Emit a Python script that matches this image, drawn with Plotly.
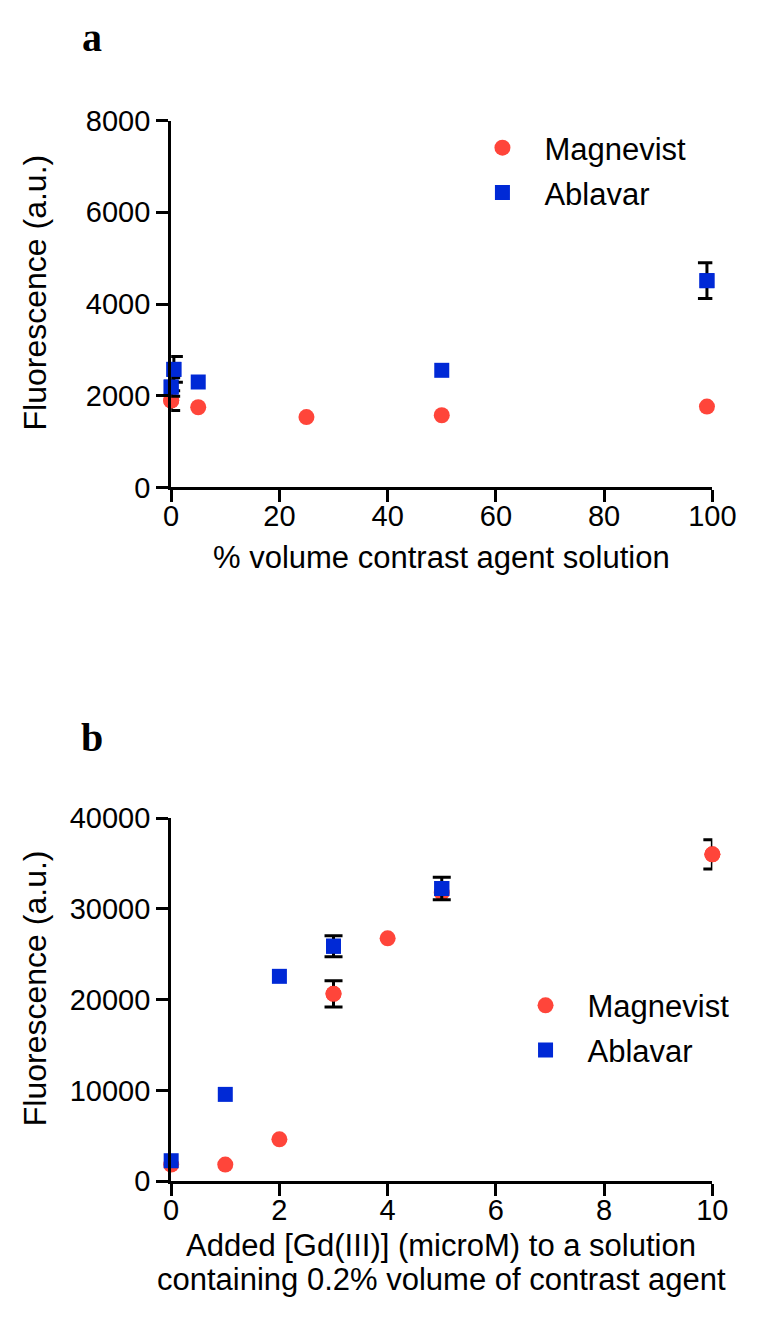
import plotly.graph_objects as go

# ---------------- data ----------------
# Panel a: % volume contrast agent solution vs fluorescence
a_mag_x = [0, 5, 25, 50, 99]
a_mag_y = [1895, 1750, 1535, 1575, 1765]
a_mag_err = [215, None, None, None, None]

a_abl_x = [0, 0.5, 5, 50, 99]
a_abl_y = [2190, 2575, 2300, 2555, 4510]
a_abl_err = [200, 280, None, None, 390]

# Panel b: added Gd(III) (microM) vs fluorescence
b_mag_x = [0, 1, 2, 3, 4, 5, 10]
b_mag_y = [1830, 1830, 4620, 20650, 26770, 31800, 36020]
b_mag_err = [None, None, None, 1450, None, None, 1600]

b_abl_x = [0, 1, 2, 3, 5]
b_abl_y = [2260, 9570, 22580, 25900, 32260]
b_abl_err = [None, None, None, 1150, 1240]

a_xticks = [0, 20, 40, 60, 80, 100]
a_yticks = [0, 2000, 4000, 6000, 8000]
b_xticks = [0, 2, 4, 6, 8, 10]
b_yticks = [0, 10000, 20000, 30000, 40000]

RED = "#FF453A"
BLUE = "#0029D6"
FONT = "Liberation Sans, Arial, sans-serif"
SERIF = "Liberation Serif, Times New Roman, serif"
W, H = 759, 1319
OFF = 8  # default page body margin of the written html


def px_x(p):
    return (p - OFF) / W


def px_y(p):
    return 1 - (p - OFF) / H


fig = go.Figure()


def add_series(x, y, err, name, color, symbol, size, xa, ya, legend):
    fig.add_trace(go.Scatter(
        x=x, y=y, mode="markers", name=name,
        marker=dict(color=color, symbol=symbol, size=size, line=dict(width=0)),
        xaxis=xa, yaxis=ya, legend=legend, legendgroup=legend + name,
        cliponaxis=False, showlegend=True))
    ex = [xx for xx, e in zip(x, err) if e is not None]
    ey = [yy for yy, e in zip(y, err) if e is not None]
    ee = [e for e in err if e is not None]
    if ex:
        fig.add_trace(go.Scatter(
            x=ex, y=ey, mode="markers", name=name,
            marker=dict(color=color, symbol=symbol, size=size, line=dict(width=0)),
            error_y=dict(type="data", array=ee, visible=True, color="black",
                         thickness=3, width=9),
            xaxis=xa, yaxis=ya, legend=legend, legendgroup=legend + name,
            cliponaxis=False, showlegend=False))


add_series(a_mag_x, a_mag_y, a_mag_err, "Magnevist", RED, "circle", 16, "x", "y", "legend")
add_series(a_abl_x, a_abl_y, a_abl_err, "Ablavar", BLUE, "square", 15, "x", "y", "legend")
add_series(b_mag_x, b_mag_y, b_mag_err, "Magnevist", RED, "circle", 16, "x2", "y2", "legend2")
add_series(b_abl_x, b_abl_y, b_abl_err, "Ablavar", BLUE, "square", 15, "x2", "y2", "legend2")

axis_common = dict(
    showline=True, linecolor="black", linewidth=3, showgrid=False, zeroline=False,
    ticks="outside", ticklen=12, tickwidth=3, tickcolor="black",
    tickfont=dict(family=FONT, size=29, color="black"),
)

xdom = [px_x(170), px_x(735)]
legend_common = dict(
    xanchor="left", yanchor="top",
    font=dict(family=FONT, size=31, color="black"),
    bgcolor="rgba(0,0,0,0)", borderwidth=0, itemwidth=74, tracegroupgap=1.5,
    traceorder="grouped",
)
fig.update_layout(
    width=W, height=H,
    margin=dict(l=0, r=0, t=0, b=0),
    paper_bgcolor="white", plot_bgcolor="white",
    font=dict(family=FONT, size=29, color="black"),
    xaxis=dict(domain=xdom, range=[0, 100], tickvals=a_xticks, anchor="y",
               ticklabelstandoff=-11, **axis_common),
    yaxis=dict(domain=[px_y(483), px_y(107)], range=[0, 8000], tickvals=a_yticks,
               tickformat="d", anchor="x", **axis_common),
    xaxis2=dict(domain=xdom, range=[0, 10], tickvals=b_xticks, anchor="y2",
                ticklabelstandoff=-11, **axis_common),
    yaxis2=dict(domain=[px_y(1194), px_y(822)], range=[0, 40000], tickvals=b_yticks,
                tickformat="d", anchor="x2", **axis_common),
    legend=dict(x=px_x(472), y=px_y(107.4), **legend_common),
    legend2=dict(x=px_x(517), y=px_y(986.4), **legend_common),
    showlegend=True,
)

ann = [
    dict(text="<b>a</b>", x=px_x(87.5), y=px_y(21.5),
         font=dict(family=SERIF, size=40, color="black")),
    dict(text="<b>b</b>", x=px_x(87.5), y=px_y(739.5),
         font=dict(family=SERIF, size=40, color="black")),
    dict(text="% volume contrast agent solution", x=px_x(452), y=px_y(555)),
    dict(text="Added [Gd(III)] (microM) to a solution", x=px_x(452), y=px_y(1260)),
    dict(text="containing 0.2% volume of contrast agent", x=px_x(452), y=px_y(1295)),
    dict(text="Fluorescence (a.u.)", x=px_x(28), y=px_y(283), textangle=-90,
         font=dict(family=FONT, size=32, color="black")),
    dict(text="Fluorescence (a.u.)", x=px_x(28), y=px_y(996), textangle=-90,
         font=dict(family=FONT, size=32, color="black")),
]
for a in ann:
    a.setdefault("font", dict(family=FONT, size=31, color="black"))
    fig.add_annotation(xref="paper", yref="paper", showarrow=False,
                       xanchor="center", yanchor="middle", **a)

fig.write_html("out.html")
